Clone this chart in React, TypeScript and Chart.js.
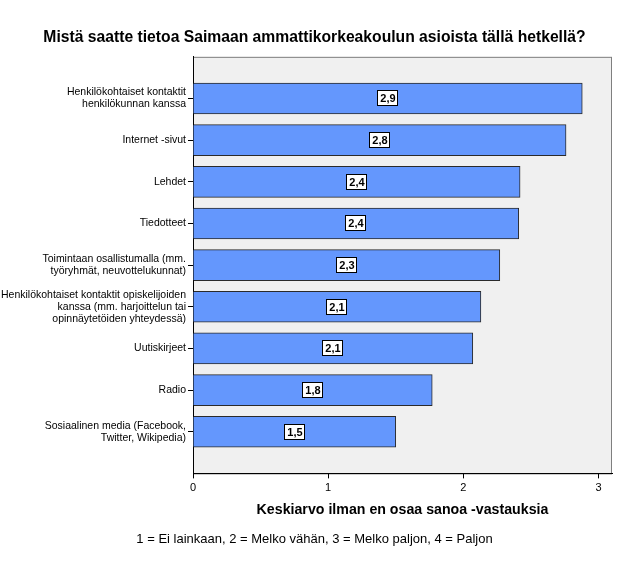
import React, { useEffect, useRef } from "react";
import { Chart, registerables } from "chart.js";

Chart.register(...registerables);

const titleText = "Mistä saatte tietoa Saimaan ammattikorkeakoulun asioista tällä hetkellä?";
const axisTitle = "Keskiarvo ilman en osaa sanoa -vastauksia";
const noteText = "1 = Ei lainkaan, 2 = Melko vähän, 3 = Melko paljon, 4 = Paljon";

const categories: (string | string[])[] = [
  ["Henkilökohtaiset kontaktit", "henkilökunnan kanssa"],
  "Internet -sivut",
  "Lehdet",
  "Tiedotteet",
  ["Toimintaan osallistumalla (mm.", "työryhmät, neuvottelukunnat)"],
  ["Henkilökohtaiset kontaktit opiskelijoiden", "kanssa (mm. harjoittelun tai", "opinnäytetöiden yhteydessä)"],
  "Uutiskirjeet",
  "Radio",
  ["Sosiaalinen media (Facebook,", "Twitter, Wikipedia)"],
];

const values = [2.88, 2.76, 2.42, 2.41, 2.27, 2.13, 2.07, 1.77, 1.5];

const xTicks = [0, 1, 2, 3];

const FONT = "'Liberation Sans', Arial, sans-serif";

const bgPlugin = {
  id: "plotBg",
  beforeDraw(chart: any) {
    const { ctx, chartArea } = chart;
    const { left, top, right, bottom } = chartArea;
    ctx.save();
    ctx.fillStyle = "#F0F0F0";
    ctx.fillRect(left, top, right - left, bottom - top);
    ctx.strokeStyle = "#7f7f7f";
    ctx.lineWidth = 1;
    ctx.strokeRect(left + 0.5, top + 0.5, right - left - 1, bottom - top);
    ctx.restore();
  },
};

const labelPlugin = {
  id: "valueBoxes",
  afterDatasetsDraw(chart: any) {
    const { ctx } = chart;
    const meta = chart.getDatasetMeta(0);
    ctx.save();
    ctx.font = `bold 11px ${FONT}`;
    ctx.textAlign = "center";
    ctx.textBaseline = "middle";
    meta.data.forEach((el: any, i: number) => {
      const txt = values[i].toFixed(1).replace(".", ",");
      const cx = Math.round((el.x + el.base) / 2);
      const cy = Math.round(el.y);
      const w = Math.ceil(ctx.measureText(txt).width) + 5;
      const h = 16;
      const x0 = cx - Math.round(w / 2);
      const y0 = cy - h / 2;
      ctx.fillStyle = "#ffffff";
      ctx.fillRect(x0, y0, w, h);
      ctx.strokeStyle = "#000000";
      ctx.lineWidth = 1;
      ctx.strokeRect(x0 + 0.5, y0 + 0.5, w - 1, h - 1);
      ctx.fillStyle = "#000000";
      ctx.fillText(txt, cx, cy + 1);
    });
    ctx.restore();
  },
};

export default function App() {
  const canvasRef = useRef<HTMLCanvasElement | null>(null);

  useEffect(() => {
    const canvas = canvasRef.current;
    if (!canvas) return;
    const chart = new Chart(canvas, {
      type: "bar",
      data: {
        datasets: [
          {
            data: values.map((v, i) => ({ x: v, y: i + 1 })),
            backgroundColor: "#6497FD",
            borderColor: "#2a2a2a",
            borderWidth: 1,
            barThickness: 31,
          } as any,
        ],
      },
      options: {
        indexAxis: "y",
        animation: false,
        responsive: false,
        layout: { padding: 0 },
        plugins: {
          legend: { display: false },
          tooltip: { enabled: false },
          title: {
            display: true,
            text: titleText,
            color: "#000",
            font: { family: FONT, size: 15.7, weight: "bold" },
            padding: { top: 28, bottom: 10 },
          },
          subtitle: {
            display: true,
            position: "bottom",
            text: noteText,
            color: "#000",
            font: { family: FONT, size: 13, weight: "normal" },
            padding: { top: 8, bottom: 17 },
          },
        },
        scales: {
          x: {
            type: "linear",
            min: 0,
            max: 3.1,
            afterBuildTicks(scale: any) {
              scale.ticks = xTicks.map((v) => ({ value: v }));
            },
            afterFit(scale: any) {
              scale.height = 50;
            },
            ticks: {
              includeBounds: false,
              color: "#000",
              padding: 3,
              font: { family: FONT, size: 11 },
            },
            grid: { drawOnChartArea: false, color: "#000", tickLength: 5 },
            border: { display: true, color: "#000", width: 1 },
            title: {
              display: true,
              text: axisTitle,
              color: "#000",
              font: { family: FONT, size: 14.2, weight: "bold" },
              padding: { top: 0, bottom: 5 },
            },
          },
          y: {
            type: "linear",
            min: 0,
            max: 10,
            reverse: true,
            offset: false,
            afterBuildTicks(scale: any) {
              scale.ticks = categories.map((_, i) => ({ value: i + 1 }));
            },
            afterFit(scale: any) {
              scale.width = 193;
            },
            ticks: {
              color: "#000",
              padding: 2,
              font: { family: FONT, size: 10.5, lineHeight: 1.15 },
              callback: (v: any) => categories[Number(v) - 1] ?? "",
            },
            grid: { drawOnChartArea: false, offset: false, color: "#000", tickLength: 5 },
            border: { display: true, color: "#000", width: 1 },
          },
          yRight: {
            type: "linear",
            position: "right",
            display: true,
            min: 0,
            max: 10,
            afterFit(scale: any) {
              scale.width = 17;
            },
            ticks: { display: false },
            grid: { display: false, drawTicks: false },
            border: { display: false },
          },
        },
      } as any,
      plugins: [bgPlugin, labelPlugin],
    });
    return () => chart.destroy();
  }, []);

  return (
    <div style={{ position: "fixed", left: 0, top: 0, width: 629, height: 564, background: "#fff" }}>
      <canvas ref={canvasRef} width={629} height={564} style={{ display: "block" }} />
    </div>
  );
}
